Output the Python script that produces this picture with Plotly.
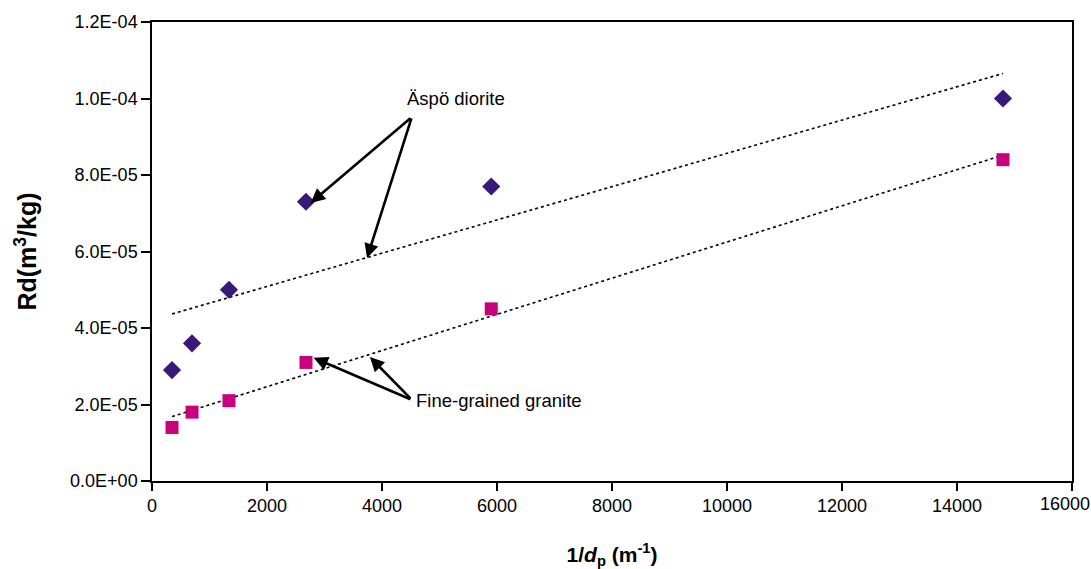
import numpy as np
import plotly.graph_objects as go

# Inverse particle diameter 1/dp (m^-1)
inv_dp = [348, 696, 1339, 2678, 5900, 14800]
# Sorption coefficient Rd (m3/kg)
rd_diorite = [2.9e-5, 3.6e-5, 5.0e-5, 7.3e-5, 7.7e-5, 1.0e-4]
rd_granite = [1.4e-5, 1.8e-5, 2.1e-5, 3.1e-5, 4.5e-5, 8.4e-5]

y_ticks = [0, 2e-5, 4e-5, 6e-5, 8e-5, 1e-4, 1.2e-4]
y_tick_text = ["0.0E+00", "2.0E-05", "4.0E-05", "6.0E-05", "8.0E-05", "1.0E-04", "1.2E-04"]
x_ticks = [0, 2000, 4000, 6000, 8000, 10000, 12000, 14000, 16000]
x_tick_text = ["0", "2000", "4000", "6000", "8000", "10000", "12000", "14000", "16000"]

x_arr = np.array(inv_dp, dtype=float)


def linear_fit(y):
    slope, intercept = np.polyfit(x_arr, np.array(y), 1)
    xs = np.array([x_arr.min(), x_arr.max()])
    return xs, slope * xs + intercept


fig = go.Figure()

for series in (rd_diorite, rd_granite):
    fx, fy = linear_fit(series)
    fig.add_trace(go.Scatter(x=fx, y=fy, mode="lines",
                             line=dict(color="black", width=1.6, dash="dot"),
                             showlegend=False, hoverinfo="skip"))

fig.add_trace(go.Scatter(x=inv_dp, y=rd_diorite, mode="markers",
                         marker=dict(symbol="diamond", size=14, color="#3A1878"),
                         showlegend=False))
fig.add_trace(go.Scatter(x=inv_dp, y=rd_granite, mode="markers",
                         marker=dict(symbol="square", size=13, color="#C8007C"),
                         showlegend=False))

font = "Liberation Sans, Arial, sans-serif"

arrow_style = dict(showarrow=True, arrowhead=2, arrowsize=1.1, arrowwidth=2.6,
                   arrowcolor="black", text="", xref="x", yref="y",
                   axref="x", ayref="y")

annotations = [
    # Äspö diorite pointers
    dict(x=2760, y=7.27e-5, ax=4520, ay=9.52e-5, **arrow_style),
    dict(x=3740, y=5.83e-5, ax=4520, ay=9.52e-5, **arrow_style),
    # Fine-grained granite pointers
    dict(x=2810, y=3.22e-5, ax=4520, ay=2.12e-5, **arrow_style),
    dict(x=3790, y=3.24e-5, ax=4520, ay=2.12e-5, **arrow_style),
    dict(x=4400, y=1.0e-4, text="Äspö diorite", showarrow=False, xanchor="left",
         yanchor="middle", font=dict(family=font, size=18.5, color="black")),
    dict(x=4560, y=2.1e-5, text="Fine-grained granite", showarrow=False, xanchor="left",
         yanchor="middle", font=dict(family=font, size=18.5, color="black")),
    # last x tick label, nudged left so it stays on the page
    dict(x=x_ticks[-1], y=0, xref="x", yref="y", text=x_tick_text[-1],
         showarrow=False, xanchor="center", yanchor="top", xshift=-7, yshift=-11,
         font=dict(family=font, size=18, color="black")),
]

fig.update_layout(
    width=1091, height=569,
    margin=dict(l=152, r=19, t=22, b=88),
    paper_bgcolor="white", plot_bgcolor="white",
    font=dict(family=font, size=18, color="black"),
    annotations=annotations,
    xaxis=dict(range=[0, 16000], tickvals=x_ticks, ticktext=x_tick_text[:-1] + [""],
               showgrid=False, zeroline=False, ticklabeloverflow="allow",
               automargin=False,
               showline=True, linecolor="black", linewidth=1.5, mirror=True,
               ticks="outside", ticklen=8, tickwidth=1.5, tickcolor="black",
               tickfont=dict(size=18),
               title=dict(text="<b>1/<i>d</i><sub>p</sub> (m<sup>-1</sup>)</b>",
                          font=dict(size=21), standoff=33)),
    yaxis=dict(range=[0, 1.2e-4], tickvals=y_ticks, ticktext=y_tick_text,
               showgrid=False, zeroline=False, ticklabeloverflow="allow",
               automargin=False,
               showline=True, linecolor="black", linewidth=1.5, mirror=True,
               ticks="outside", ticklen=9, tickwidth=1.5, tickcolor="black",
               tickfont=dict(size=18),
               title=dict(text="<b>Rd(m<sup>3</sup>/kg)</b>", font=dict(size=25),
                          standoff=26)),
)

fig.write_html("out.html")
